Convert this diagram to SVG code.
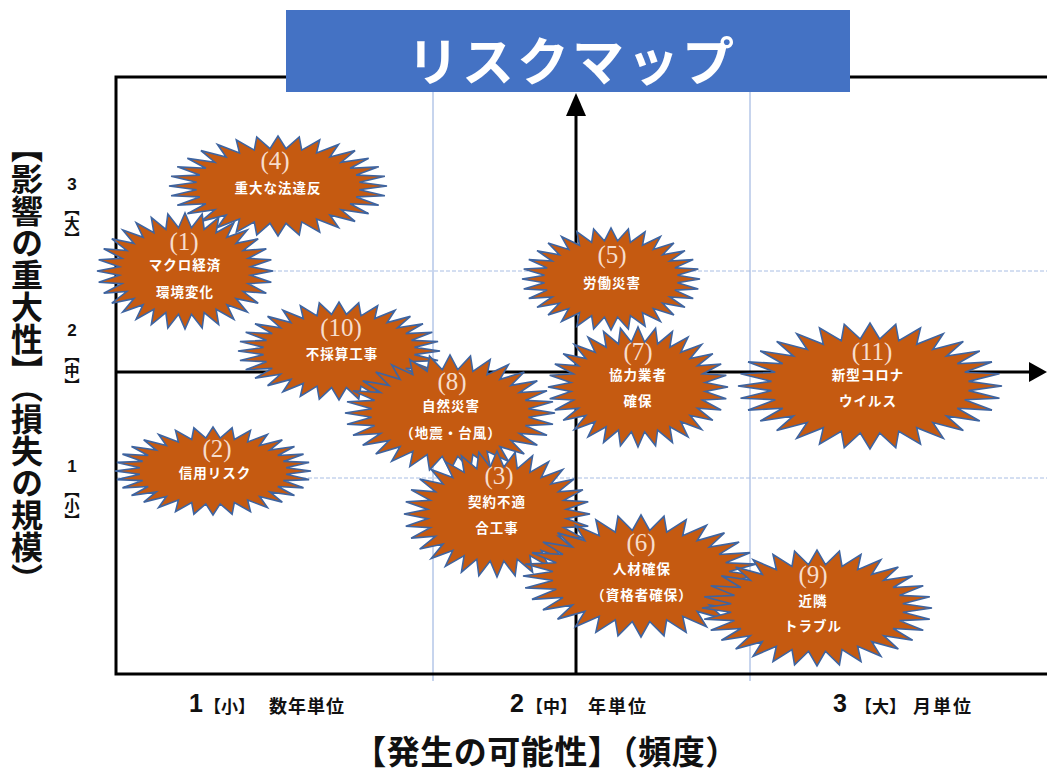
<svg xmlns="http://www.w3.org/2000/svg" xmlns:xlink="http://www.w3.org/1999/xlink" width="1047" height="772" viewBox="0 0 1047 772">
<style>
.grid{stroke:#8FAADC;stroke-width:1;fill:none}
.gridh{stroke:#A9BEE4;stroke-width:1;stroke-dasharray:4 2;fill:none}
.axis{stroke:#000;stroke-width:3;fill:none}
.num{font-family:"Liberation Serif","Times New Roman",serif;font-size:25px;fill:#F7DDCC;text-anchor:middle;dominant-baseline:central}
.lbl{font-family:"Noto Sans CJK JP","Noto Sans",sans-serif;font-weight:bold;font-size:13.5px;fill:#fff;text-anchor:middle;dominant-baseline:central;letter-spacing:1px}
.ax{font-family:"Noto Sans CJK JP",sans-serif;font-weight:bold;fill:#111;dominant-baseline:central}
.digit{font-family:"Liberation Sans",Arial,sans-serif;font-weight:bold;fill:#111;dominant-baseline:central;text-anchor:middle}
.vert{writing-mode:vertical-rl;text-anchor:middle}
</style>
<defs>
<polygon id="star" fill="#C55A11" stroke="#3E64A0" stroke-width="1.6" vector-effect="non-scaling-stroke" stroke-linejoin="miter" points="100,0 74.64,7.35 98.08,19.51 71.77,21.77 92.39,38.27 66.14,35.36 83.15,55.56 57.98,47.58 70.71,70.71 47.58,57.98 55.56,83.15 35.36,66.14 38.27,92.39 21.77,71.77 19.51,98.08 7.35,74.64 0,100 -7.35,74.64 -19.51,98.08 -21.77,71.77 -38.27,92.39 -35.36,66.14 -55.56,83.15 -47.58,57.98 -70.71,70.71 -57.98,47.58 -83.15,55.56 -66.14,35.36 -92.39,38.27 -71.77,21.77 -98.08,19.51 -74.64,7.35 -100,0 -74.64,-7.35 -98.08,-19.51 -71.77,-21.77 -92.39,-38.27 -66.14,-35.36 -83.15,-55.56 -57.98,-47.58 -70.71,-70.71 -47.58,-57.98 -55.56,-83.15 -35.36,-66.14 -38.27,-92.39 -21.77,-71.77 -19.51,-98.08 -7.35,-74.64 0,-100 7.35,-74.64 19.51,-98.08 21.77,-71.77 38.27,-92.39 35.36,-66.14 55.56,-83.15 47.58,-57.98 70.71,-70.71 57.98,-47.58 83.15,-55.56 66.14,-35.36 92.39,-38.27 71.77,-21.77 98.08,-19.51 74.64,-7.35"/>
</defs>
<rect width="1047" height="772" fill="#fff"/>

<g id="grid">
<line class="grid" x1="433" y1="92" x2="433" y2="681"/>
<line class="grid" x1="750" y1="92" x2="750" y2="681"/>
<line class="gridh" x1="116" y1="271" x2="1047" y2="271"/>
<line class="gridh" x1="116" y1="478" x2="1047" y2="478"/>
</g>

<g id="connectors">
<polyline class="axis" points="1047,77 116,77 116,674 1047,674"/>
<line class="axis" x1="576" y1="674" x2="576" y2="112"/>
<polygon points="576,93 566,116 586,116" fill="#000"/>
<line class="axis" x1="116" y1="372" x2="1030" y2="372"/>
<polygon points="1047,372 1029,362 1029,382" fill="#000"/>
</g>

<g id="title">
<rect x="286" y="10" width="564" height="82" fill="#4472C4"/>
<text x="572" y="81" font-family="Noto Sans CJK JP, sans-serif" font-weight="bold" font-size="52" fill="#fff" text-anchor="middle" letter-spacing="3">リスクマップ</text>
</g>

<g id="yaxis-labels">
<text class="ax vert" x="27" y="363" font-size="32">【影響の重大性】（損失の規模）</text>
<text class="digit" x="72" y="184" font-size="17">3</text>
<text class="ax vert" x="72" y="223" font-size="15">【大】</text>
<text class="digit" x="72" y="330" font-size="17">2</text>
<text class="ax vert" x="72" y="370" font-size="15">【中】</text>
<text class="digit" x="72" y="466" font-size="17">1</text>
<text class="ax vert" x="72" y="505" font-size="15">【小】</text>
</g>

<g id="xaxis-labels">
<text class="digit" x="196" y="703" font-size="25">1</text>
<text class="ax" x="204" y="705" font-size="17">【小】</text>
<text class="ax" x="269" y="705" font-size="18" letter-spacing="1">数年単位</text>
<text class="digit" x="517" y="703" font-size="25">2</text>
<text class="ax" x="526" y="705" font-size="17">【中】</text>
<text class="ax" x="588" y="705" font-size="18" letter-spacing="2">年単位</text>
<text class="digit" x="840" y="703" font-size="25">3</text>
<text class="ax" x="855" y="705" font-size="17">【大】</text>
<text class="ax" x="913" y="705" font-size="18" letter-spacing="2">月単位</text>
<text class="ax" x="546" y="750" font-size="33" text-anchor="middle" letter-spacing="0.5">【発生の可能性】（頻度）</text>
</g>

<g id="risk4">
<use xlink:href="#star" href="#star" transform="translate(278 186) scale(1.09 0.50)"/>
<text class="num" x="275" y="160">(4)</text>
<text class="lbl" x="278" y="187">重大な法違反</text>
</g>
<g id="risk1">
<use xlink:href="#star" href="#star" transform="translate(185 271) scale(0.88 0.58)"/>
<text class="num" x="184" y="241">(1)</text>
<text class="lbl" x="185" y="264">マクロ経済</text>
<text class="lbl" x="185" y="291">環境変化</text>
</g>
<g id="risk10">
<use xlink:href="#star" href="#star" transform="translate(339 351) scale(1.01 0.49)"/>
<text class="num" x="341" y="327">(10)</text>
<text class="lbl" x="342" y="353">不採算工事</text>
</g>
<g id="risk2">
<use xlink:href="#star" href="#star" transform="translate(213 471) scale(0.98 0.44)"/>
<text class="num" x="217" y="448">(2)</text>
<text class="lbl" x="215" y="472">信用リスク</text>
</g>
<g id="risk5">
<use xlink:href="#star" href="#star" transform="translate(611 279) scale(0.89 0.51)"/>
<text class="num" x="612" y="254">(5)</text>
<text class="lbl" x="612" y="282">労働災害</text>
</g>
<g id="risk7">
<use xlink:href="#star" href="#star" transform="translate(638 387) scale(0.90 0.60)"/>
<text class="num" x="638" y="351">(7)</text>
<text class="lbl" x="638" y="374">協力業者</text>
<text class="lbl" x="638" y="400">確保</text>
</g>
<g id="risk11">
<use xlink:href="#star" href="#star" transform="translate(870 386) scale(1.32 0.63)"/>
<text class="num" x="872" y="351">(11)</text>
<text class="lbl" x="868" y="374">新型コロナ</text>
<text class="lbl" x="868" y="400">ウイルス</text>
</g>
<g id="risk8">
<use xlink:href="#star" href="#star" transform="translate(450 413) scale(1.05 0.58)"/>
<text class="num" x="452" y="381">(8)</text>
<text class="lbl" x="451" y="405">自然災害</text>
<text class="lbl" x="451" y="432">（地震・台風）</text>
</g>
<g id="risk3">
<use xlink:href="#star" href="#star" transform="translate(497 514) scale(0.93 0.63)"/>
<text class="num" x="499" y="475">(3)</text>
<text class="lbl" x="497" y="501">契約不適</text>
<text class="lbl" x="497" y="527">合工事</text>
</g>
<g id="risk6">
<use xlink:href="#star" href="#star" transform="translate(641 576) scale(1.18 0.61)"/>
<text class="num" x="641" y="542">(6)</text>
<text class="lbl" x="642" y="568">人材確保</text>
<text class="lbl" x="642" y="594">（資格者確保）</text>
</g>
<g id="risk9">
<use xlink:href="#star" href="#star" transform="translate(817 608) scale(1.15 0.58)"/>
<text class="num" x="813" y="574">(9)</text>
<text class="lbl" x="813" y="600">近隣</text>
<text class="lbl" x="813" y="625">トラブル</text>
</g>
</svg>
